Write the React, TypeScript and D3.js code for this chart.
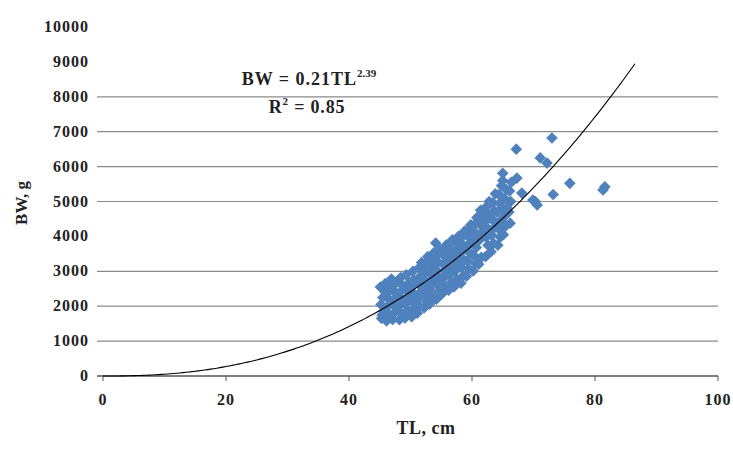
import React from "react";
import * as d3 from "d3";

const xTicks = [0, 20, 40, 60, 80, 100];
const yTicks = [0, 1000, 2000, 3000, 4000, 5000, 6000, 7000, 8000, 9000, 10000];
const gridValues = [1000, 2000, 3000, 5000, 6000, 7000, 8000];
const coefA = 0.21;
const coefB = 2.39;
const curveEndTL = 86.5;

const tl: number[] = [
  45.3, 45.6, 45.2, 45.5, 45.8, 45.4, 45.1, 45.9,
  46.1, 46.4, 46.2, 46.6, 46.3, 46.5, 46.8, 46.9,
  47.1, 47.4, 47.2, 47.6, 47.3, 47.5, 47.9,
  48.2, 48.5, 48.1, 48.6, 48.3, 48.7, 48.4, 48.9,
  49.1, 49.5, 49.2, 49.7, 49.4, 49.8, 49.3, 49.9,
  50.2, 50.6, 50.3, 50.7, 50.1, 50.5, 50.4, 50.8,
  51.1, 51.5, 51.2, 51.7, 51.3, 51.6, 51.4, 51.8,
  52.2, 52.6, 52.3, 52.7, 52.1, 52.5, 52.4, 52.8, 52.9,
  53.1, 53.5, 53.2, 53.7, 53.3, 53.6, 53.4, 53.8, 53.9,
  54.2, 54.6, 54.3, 54.7, 54.1, 54.5, 54.4, 54.8, 54.1,
  55.1, 55.5, 55.2, 55.7, 55.3, 55.6, 55.4, 55.8, 55.9,
  56.2, 56.6, 56.3, 56.7, 56.1, 56.5, 56.4, 56.8, 56.9,
  57.1, 57.5, 57.2, 57.7, 57.3, 57.6, 57.4, 57.8, 57.9,
  58.2, 58.6, 58.3, 58.7, 58.1, 58.5, 58.4, 58.8, 58.9,
  59.1, 59.5, 59.2, 59.7, 59.3, 59.6, 59.4, 59.8, 59.9,
  60.2, 60.6, 60.3, 60.7, 60.1, 60.5, 60.4, 60.8, 60.9,
  61.1, 61.5, 61.2, 61.7, 61.3, 61.6, 61.4, 61.9,
  62.2, 62.6, 62.3, 62.7, 62.1, 62.5, 62.4, 62.8, 62.9,
  63.1, 63.5, 63.2, 63.7, 63.3, 63.6, 63.4, 63.8, 63.9,
  64.2, 64.6, 64.3, 64.7, 64.1, 64.5, 64.4, 64.8, 64.9,
  65.1, 65.5, 65.2, 65.7, 65.3, 65.6, 65.0, 65.0,
  66.2, 66.0, 66.3, 66.1, 66.4,
  67.3, 67.2,
  68.1, 69.9, 70.6, 70.3, 71.1, 72.2, 73.0, 73.2, 75.9, 81.3, 81.6,
];

const bw: number[] = [
  1650, 1850, 2050, 2250, 2420, 1750, 2550, 2650,
  1580, 1780, 1980, 2180, 2380, 2560, 1680, 2780,
  1620, 1820, 2040, 2240, 2440, 2640, 2720,
  1610, 1800, 2000, 2200, 2400, 2600, 2820, 2100,
  1660, 1880, 2080, 2280, 2480, 2680, 2900, 2380,
  1700, 1920, 2120, 2330, 2540, 2760, 3000, 2200,
  1800, 2000, 2220, 2420, 2640, 2860, 3100, 3250,
  1950, 2150, 2360, 2560, 2780, 3000, 3220, 3420, 2660,
  2060, 2260, 2470, 2680, 2900, 3120, 3340, 3530, 2800,
  2200, 2400, 2620, 2830, 3050, 3260, 3480, 3620, 3810,
  2350, 2560, 2780, 2990, 3200, 3420, 3640, 3750, 3080,
  2460, 2680, 2900, 3120, 3340, 3560, 3780, 3900, 3230,
  2560, 2780, 3000, 3220, 3440, 3660, 3880, 4000, 3350,
  2660, 2880, 3100, 3320, 3540, 3760, 3980, 4150, 3640,
  2860, 3080, 3300, 3520, 3740, 3960, 4180, 4330, 3850,
  3010, 3230, 3450, 3680, 3900, 4120, 4340, 4540, 4020,
  3200, 3400, 3900, 4120, 4340, 4560, 4750, 4250,
  3420, 3750, 3980, 4200, 4420, 4640, 4860, 5000, 4530,
  3560, 3800, 4030, 4260, 4500, 4730, 4960, 5220, 4380,
  3750, 3980, 4220, 4460, 4700, 4950, 5200, 5450, 4800,
  4050, 4300, 4560, 4820, 5080, 5340, 5600, 5810,
  4380, 4700, 5000, 5300, 5550,
  5670, 6500,
  5240, 5040, 4900, 5000, 6250, 6100, 6820, 5200, 5520, 5330, 5420,
];

const W = 733;
const H = 450;
const x = d3.scaleLinear().domain([0, 100]).range([103, 718]);
const y = d3.scaleLinear().domain([0, 10000]).range([376, 27]);

const serif = "'Liberation Serif', 'Times New Roman', serif";
const R = 5.8;
const diamond = `M0,${-R}L${R},0L0,${R}L${-R},0Z`;

export default function App() {
  const curvePts = d3.range(0, curveEndTL + 0.001, 0.5).map((t) => [t, coefA * Math.pow(t, coefB)] as [number, number]);
  const line = d3
    .line<[number, number]>()
    .x((d) => x(d[0]))
    .y((d) => y(d[1]));
  return (
    <svg width={W} height={H} style={{ position: "absolute", left: 0, top: 0, background: "#fff" }}>
      <rect x={0} y={0} width={W} height={H} fill="#fff" />
      {gridValues.map((v) => (
        <line key={v} x1={x(0) - 6} x2={x(100)} y1={y(v)} y2={y(v)} stroke="#8a8a8a" strokeWidth={1.2} />
      ))}
      <line x1={x(0) - 6} x2={x(100)} y1={y(0)} y2={y(0)} stroke="#555" strokeWidth={1.3} />
      {xTicks.map((t) => (
        <line key={t} x1={x(t)} x2={x(t)} y1={y(0)} y2={y(0) + 5} stroke="#555" strokeWidth={1} />
      ))}
      {yTicks.map((t) => (
        <text key={t} x={89} y={y(t) + 5} textAnchor="end" fontFamily={serif} fontWeight="bold" fontSize={16} letterSpacing={1} fill="#222">
          {t}
        </text>
      ))}
      {xTicks.map((t) => (
        <text key={t} x={x(t)} y={405} textAnchor="middle" fontFamily={serif} fontWeight="bold" fontSize={16} letterSpacing={1} fill="#222">
          {t}
        </text>
      ))}
      <text x={426} y={434} textAnchor="middle" fontFamily={serif} fontWeight="bold" fontSize={18} letterSpacing={0.5} fill="#222">
        TL, cm
      </text>
      <text transform={`translate(27,203) rotate(-90)`} textAnchor="middle" fontFamily={serif} fontWeight="bold" fontSize={17} fill="#222">
        BW, g
      </text>
      <g fill="#4f81bd">
        {tl.map((t, i) => (
          <path key={i} d={diamond} transform={`translate(${x(t)},${y(bw[i])})`} />
        ))}
      </g>
      <path d={line(curvePts) as string} fill="none" stroke="#000" strokeWidth={1.1} />
      <text x={309} y={85} textAnchor="middle" fontFamily={serif} fontWeight="bold" fontSize={18} letterSpacing={1} fill="#222">
        BW = 0.21TL<tspan dy={-8} fontSize={11} letterSpacing={0}>2.39</tspan>
      </text>
      <text x={307} y={113} textAnchor="middle" fontFamily={serif} fontWeight="bold" fontSize={18} letterSpacing={0.8} fill="#222">
        R<tspan dy={-8} fontSize={11}>2</tspan><tspan dy={8}> = 0.85</tspan>
      </text>
    </svg>
  );
}
